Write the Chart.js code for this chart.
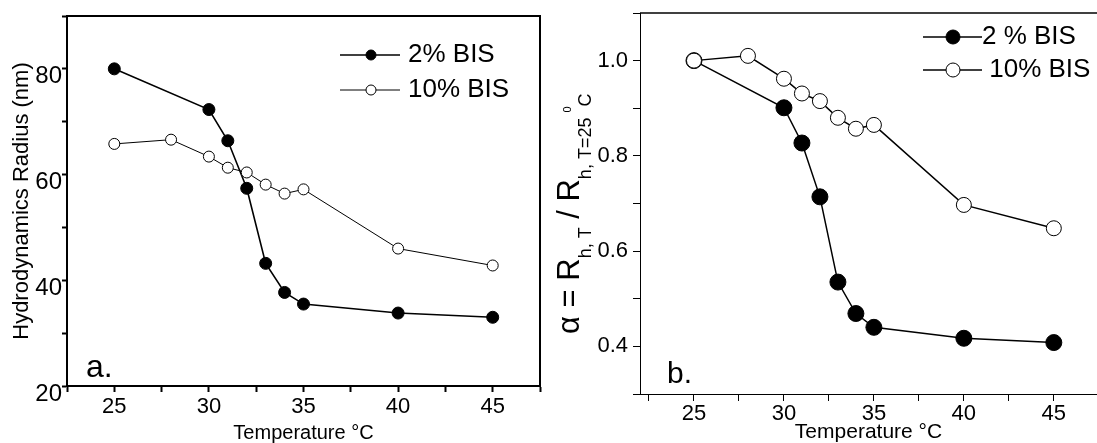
<!DOCTYPE html>
<html>
<head>
<meta charset="utf-8">
<script src="https://cdn.jsdelivr.net/npm/chart.js@4.4.0/dist/chart.umd.min.js"></script>
<style>
  html, body { margin: 0; padding: 0; background: #fff; }
  #wrap { position: relative; width: 1097px; height: 443px; }
  #boxA { position: absolute; left: 0; top: 0; width: 548px; height: 443px; }
  #boxB { position: absolute; left: 548px; top: 0; width: 549px; height: 443px; }
</style>
</head>
<body>
<div id="wrap">
  <div id="boxA"><canvas id="chartA" width="548" height="443"></canvas></div>
  <div id="boxB"><canvas id="chartB" width="549" height="443"></canvas></div>
</div>
<script>
// panel a: hydrodynamic radius (nm)
const tempA2 = [25, 30, 31, 32, 33, 34, 35, 40, 45];
const radius2 = [80.0, 72.3, 66.4, 57.4, 43.2, 37.7, 35.5, 33.8, 33.0];
const tempA10 = [25, 28, 30, 31, 32, 33, 34, 35, 40, 45];
const radius10 = [65.8, 66.6, 63.4, 61.3, 60.4, 58.1, 56.4, 57.2, 46.0, 42.8];

// panel b: alpha = Rh(T) / Rh(25 C)
const tempB2 = [25, 30, 31, 32, 33, 34, 35, 40, 45];
const alpha2 = [1.0, 0.901, 0.827, 0.714, 0.535, 0.469, 0.44, 0.417, 0.408];
const tempB10 = [25, 28, 30, 31, 32, 33, 34, 35, 40, 45];
const alpha10 = [1.0, 1.01, 0.962, 0.931, 0.915, 0.88, 0.857, 0.865, 0.697, 0.648];

// tick labels
const xLabels = [25, 30, 35, 40, 45];
const yLabelsA = [20, 40, 60, 80];
const yLabelsB = ['0.4', '0.6', '0.8', '1.0'];

Chart.defaults.font.family = '"Liberation Sans", Arial, sans-serif';
Chart.defaults.color = '#000';

const FONT = '"Liberation Sans", Arial, sans-serif';
const pts = (xs, ys) => xs.map((x, i) => ({ x: x, y: ys[i] }));

// ticks on every multiple of step inside the axis range (major + minor)
const stepTicks = step => axis => {
  const out = [];
  for (let k = Math.ceil(axis.min / step - 1e-9); k * step <= axis.max + 1e-9; k++) {
    out.push({ value: +(k * step).toFixed(6) });
  }
  axis.ticks = out;
};

// fixed axis size, no extra padding for labels
const fixSize = (w, h) => a => {
  if (w !== null) a.width = w;
  if (h !== null) a.height = h;
  a.paddingLeft = a.paddingRight = a.paddingTop = a.paddingBottom = 0;
};

function framePlugin(w) {
  return {
    id: 'frame',
    afterDraw(chart) {
      const { ctx, chartArea: a } = chart;
      ctx.save();
      ctx.strokeStyle = '#000';
      ctx.lineWidth = w;
      ctx.strokeRect(a.left, a.top, a.right - a.left, a.bottom - a.top);
      ctx.restore();
    }
  };
}

function topLinePlugin(w) {
  return {
    id: 'topline',
    afterDraw(chart) {
      const { ctx, chartArea: a } = chart;
      ctx.save();
      ctx.strokeStyle = '#000';
      ctx.lineWidth = w;
      ctx.beginPath();
      ctx.moveTo(a.left, a.top);
      ctx.lineTo(chart.width, a.top);
      ctx.stroke();
      ctx.restore();
    }
  };
}

// legend drawn as line + marker + text
function keyPlugin(rows) {
  return {
    id: 'key',
    afterDraw(chart) {
      const ctx = chart.ctx;
      ctx.save();
      rows.forEach((r, i) => {
        const ds = chart.data.datasets[i];
        ctx.strokeStyle = '#000';
        ctx.lineWidth = ds.borderWidth;
        ctx.beginPath();
        ctx.moveTo(r.x0, r.y);
        ctx.lineTo(r.x1, r.y);
        ctx.stroke();
        ctx.beginPath();
        ctx.arc(r.mx, r.y, r.r, 0, Math.PI * 2);
        ctx.fillStyle = ds.pointBackgroundColor;
        ctx.fill();
        ctx.lineWidth = 1;
        ctx.stroke();
        ctx.fillStyle = '#000';
        ctx.font = r.size + 'px ' + FONT;
        ctx.textBaseline = 'middle';
        ctx.fillText(ds.label, r.tx, r.y);
      });
      ctx.restore();
    }
  };
}

function tagPlugin(text, x, y, size) {
  return {
    id: 'tag',
    afterDraw(chart) {
      const ctx = chart.ctx;
      ctx.save();
      ctx.fillStyle = '#000';
      ctx.font = size + 'px ' + FONT;
      ctx.textBaseline = 'alphabetic';
      ctx.fillText(text, x, y);
      ctx.restore();
    }
  };
}

// rotated axis title with sub/superscripts
function richTitlePlugin(x, y, pieces) {
  return {
    id: 'richtitle',
    afterDraw(chart) {
      const ctx = chart.ctx;
      ctx.save();
      ctx.translate(x, y);
      ctx.rotate(-Math.PI / 2);
      ctx.fillStyle = '#000';
      ctx.textBaseline = 'alphabetic';
      let cx = 0;
      pieces.forEach(p => {
        ctx.font = p.size + 'px ' + FONT;
        ctx.fillText(p.text, cx, p.shift || 0);
        cx += ctx.measureText(p.text).width;
      });
      ctx.restore();
    }
  };
}

new Chart(document.getElementById('chartA'), {
  type: 'line',
  data: {
    datasets: [
      {
        label: '2% BIS', data: pts(tempA2, radius2),
        borderColor: '#000', borderWidth: 1.6, tension: 0,
        pointRadius: 6, pointBackgroundColor: '#000', pointBorderColor: '#000', pointBorderWidth: 1,
        order: 1
      },
      {
        label: '10% BIS', data: pts(tempA10, radius10),
        borderColor: '#000', borderWidth: 1, tension: 0,
        pointRadius: 5.5, pointBackgroundColor: '#fff', pointBorderColor: '#000', pointBorderWidth: 1,
        order: 0
      }
    ]
  },
  options: {
    responsive: false,
    animation: false,
    events: [],
    layout: { autoPadding: false, padding: { top: 16, right: 8, left: 0, bottom: 0 } },
    plugins: { legend: { display: false }, tooltip: { enabled: false } },
    scales: {
      x: {
        type: 'linear', min: 22.5, max: 47.5,
        ticks: {
          autoSkip: false, maxRotation: 0, padding: 2,
          font: { size: 22 },
          callback: v => xLabels.includes(v) ? String(v) : ''
        },
        grid: { drawOnChartArea: false, drawTicks: true, tickLength: 6, tickColor: '#000', tickWidth: 2 },
        border: { color: '#000', width: 2 },
        title: { display: true, text: 'Temperature °C', font: { size: 20, lineHeight: 1 }, padding: { top: 0, bottom: 0 } },
        afterBuildTicks: stepTicks(2.5),
        afterFit: fixSize(null, 57)
      },
      y: {
        type: 'linear', min: 20, max: 90,
        ticks: {
          autoSkip: false, padding: 0, labelOffset: 8,
          font: { size: 24 },
          callback: v => yLabelsA.includes(v) ? String(v) : ''
        },
        grid: { drawOnChartArea: false, drawTicks: true, tickLength: 5, tickColor: '#000', tickWidth: 2 },
        border: { color: '#000', width: 2 },
        title: { display: true, text: 'Hydrodynamics Radius (nm)', font: { size: 22, lineHeight: 1 }, padding: { top: 11, bottom: 0 } },
        afterBuildTicks: stepTicks(10),
        afterFit: fixSize(67, null)
      }
    }
  },
  plugins: [
    framePlugin(2),
    keyPlugin([
      { y: 55, x0: 340, x1: 400, mx: 371, r: 5, tx: 408, size: 26 },
      { y: 90, x0: 340, x1: 400, mx: 371, r: 5, tx: 408, size: 26 }
    ]),
    tagPlugin('a.', 86, 377, 32)
  ]
});

new Chart(document.getElementById('chartB'), {
  type: 'line',
  data: {
    datasets: [
      {
        label: '2 % BIS', data: pts(tempB2, alpha2),
        borderColor: '#000', borderWidth: 1.5, tension: 0,
        pointRadius: 8, pointBackgroundColor: '#000', pointBorderColor: '#000', pointBorderWidth: 1,
        order: 1
      },
      {
        label: ' 10% BIS', data: pts(tempB10, alpha10),
        borderColor: '#000', borderWidth: 1.5, tension: 0,
        pointRadius: 7.5, pointBackgroundColor: '#fff', pointBorderColor: '#000', pointBorderWidth: 1,
        order: 0
      }
    ]
  },
  options: {
    responsive: false,
    animation: false,
    events: [],
    layout: { autoPadding: false, padding: { top: 13, right: 0, left: 0, bottom: 0 } },
    plugins: { legend: { display: false }, tooltip: { enabled: false } },
    scales: {
      x: {
        type: 'linear', min: 22, max: 47.4,
        ticks: {
          autoSkip: false, maxRotation: 0, padding: 0,
          font: { size: 22 },
          callback: v => xLabels.includes(v) ? String(v) : ''
        },
        grid: { drawOnChartArea: false, drawTicks: true, tickLength: 7, tickColor: '#000', tickWidth: 1 },
        border: { color: '#000', width: 1 },
        title: { display: true, text: 'Temperature °C', font: { size: 21, lineHeight: 1 }, padding: { top: 0, bottom: 0 } },
        afterBuildTicks: stepTicks(2.5),
        afterFit: fixSize(null, 49)
      },
      y: {
        type: 'linear', min: 0.3, max: 1.1,
        ticks: {
          autoSkip: false, padding: 5,
          font: { size: 22 },
          callback: v => { const s = v.toFixed(1); return yLabelsB.includes(s) ? s : ''; }
        },
        grid: { drawOnChartArea: false, drawTicks: true, tickLength: 7, tickColor: '#000', tickWidth: 1 },
        border: { color: '#000', width: 1 },
        afterBuildTicks: stepTicks(0.1),
        afterFit: fixSize(92, null)
      }
    }
  },
  plugins: [
    topLinePlugin(1.5),
    keyPlugin([
      { y: 37, x0: 375, x1: 434, mx: 405, r: 7, tx: 434, size: 26 },
      { y: 70, x0: 375, x1: 434, mx: 405, r: 7, tx: 434, size: 26 }
    ]),
    tagPlugin('b.', 119, 383, 30),
    richTitlePlugin(31, 334, [
      { text: 'α = ', size: 31 },
      { text: 'R', size: 31 },
      { text: 'h, T', size: 18, shift: 12 },
      { text: ' / ', size: 31 },
      { text: 'R', size: 31 },
      { text: 'h, T=25 ', size: 18, shift: 12 },
      { text: '0', size: 11, shift: -8 },
      { text: 'C', size: 18, shift: 12 }
    ])
  ]
});
</script>
</body>
</html>
